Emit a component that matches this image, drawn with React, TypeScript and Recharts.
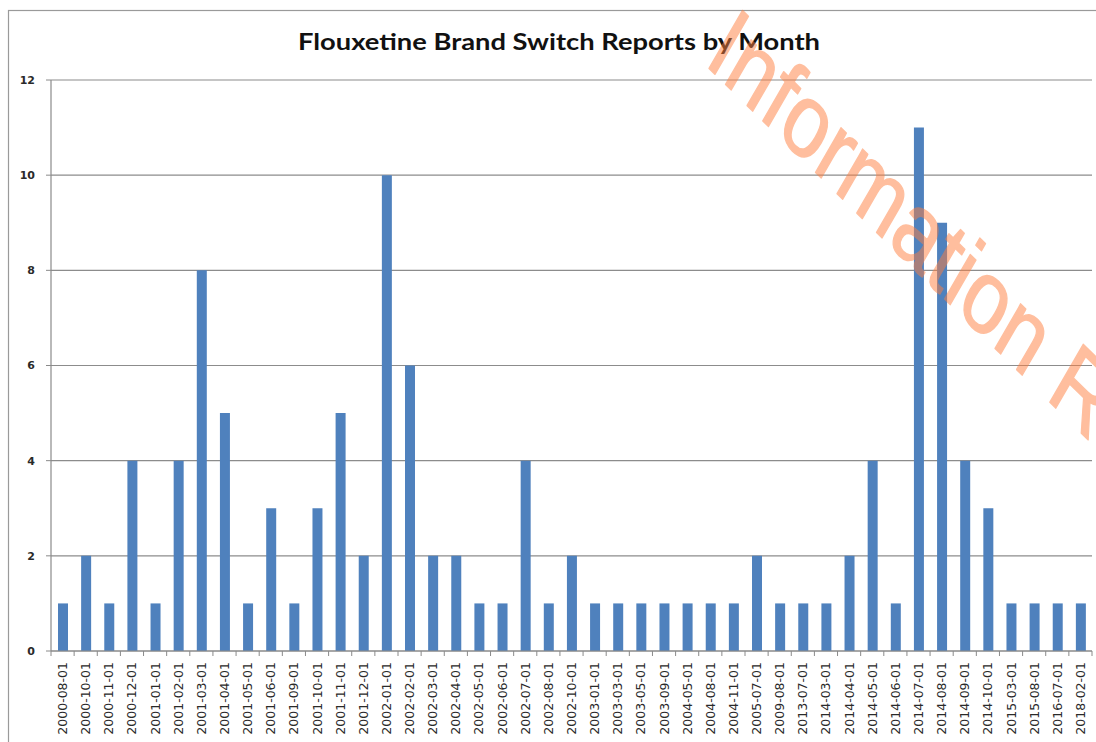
import React from 'react';
import { BarChart, Bar, XAxis, YAxis, CartesianGrid } from 'recharts';

const months = [
  '2000-08-01', '2000-10-01', '2000-11-01', '2000-12-01', '2001-01-01', '2001-02-01', '2001-03-01',
  '2001-04-01', '2001-05-01', '2001-06-01', '2001-09-01', '2001-10-01', '2001-11-01', '2001-12-01',
  '2002-01-01', '2002-02-01', '2002-03-01', '2002-04-01', '2002-05-01', '2002-06-01', '2002-07-01',
  '2002-08-01', '2002-10-01', '2003-01-01', '2003-03-01', '2003-05-01', '2003-09-01', '2004-05-01',
  '2004-08-01', '2004-11-01', '2005-07-01', '2009-08-01', '2013-07-01', '2014-03-01', '2014-04-01',
  '2014-05-01', '2014-06-01', '2014-07-01', '2014-08-01', '2014-09-01', '2014-10-01', '2015-03-01',
  '2015-08-01', '2016-07-01', '2018-02-01',
];

const reports = [
  1, 2, 1, 4, 1, 4, 8,
  5, 1, 3, 1, 3, 5, 2,
  10, 6, 2, 2, 1, 1, 4,
  1, 2, 1, 1, 1, 1, 1,
  1, 1, 2, 1, 1, 1, 2,
  4, 1, 11, 9, 4, 3, 1,
  1, 1, 1,
];

const yTicks = [0, 2, 4, 6, 8, 10, 12];

const title = 'Flouxetine Brand Switch Reports by Month';
const watermark = 'Information R';

const data = months.map((m, i) => ({ month: m, count: reports[i] }));

const W = 1096;
const H = 742;
const MARGIN = { top: 80, right: 4, bottom: 0, left: 0 };
const Y_AXIS_W = 51;
const X_AXIS_H = 91;
const PLOT_W = W - MARGIN.left - MARGIN.right - Y_AXIS_W;
const BAND = PLOT_W / data.length;

const XTick = (props: any) => {
  const { x, y, payload, index } = props;
  const axisY = y - 11;
  return (
    <g>
      <line x1={x - BAND / 2} x2={x - BAND / 2} y1={axisY} y2={axisY + 5} stroke="#8a8a8a" strokeWidth={1} />
      {index === data.length - 1 && (
        <line x1={x + BAND / 2} x2={x + BAND / 2} y1={axisY} y2={axisY + 5} stroke="#8a8a8a" strokeWidth={1} />
      )}
      <g transform={`translate(${x},${y})`}>
        <text
          transform="rotate(-90)"
          textAnchor="end"
          dy="0.36em"
          fontFamily="DejaVu Sans"
          fontSize={12.5}
          fill="#2a2a2a"
        >
          {payload.value}
        </text>
      </g>
    </g>
  );
};

export default function App() {
  return (
    <div style={{ position: 'absolute', left: 0, top: 0, width: W, height: H, background: '#fff', overflow: 'hidden' }}>
      <BarChart width={W} height={H} data={data} margin={MARGIN}>
        <CartesianGrid vertical={false} stroke="#8c8c8c" strokeWidth={1.2} />
        <XAxis
          dataKey="month"
          interval={0}
          height={X_AXIS_H}
          tickLine={false}
          tickSize={5}
          tickMargin={6}
          axisLine={{ stroke: '#8a8a8a', strokeWidth: 1.2 }}
          tick={<XTick />}
        />
        <YAxis
          domain={[0, 12]}
          ticks={yTicks}
          width={Y_AXIS_W}
          tickSize={5}
          tickMargin={11}
          axisLine={{ stroke: '#8a8a8a', strokeWidth: 1.2 }}
          tickLine={{ stroke: '#8a8a8a' }}
          tick={{ fontFamily: 'DejaVu Sans', fontWeight: 700, fontSize: 11, fill: '#2a2a2a' }}
        />
        <Bar dataKey="count" fill="#4F81BD" barSize={10} isAnimationActive={false} />
      </BarChart>
      <svg width={W} height={H} style={{ position: 'absolute', left: 0, top: 0, pointerEvents: 'none' }}>
        <rect x={8.5} y={10.5} width={1200} height={800} fill="none" stroke="#9a9a9a" strokeWidth={1.2} />
        <text
          x={559}
          y={50}
          textAnchor="middle"
          fontFamily="Lato"
          fontWeight={700}
          fontSize={23}
          textLength={522}
          lengthAdjust="spacingAndGlyphs"
          fill="#111"
        >
          {title}
        </text>
        <g opacity={0.5} transform="scale(1,1.3) translate(703,48) rotate(37)">
          <text
            x={0}
            y={0}
            fontFamily="Liberation Sans"
            fontSize={81}
            fill="#FF7F3F"
            stroke="#FF7F3F"
            strokeWidth={1.2}
            strokeLinejoin="round"
          >
            {watermark}
          </text>
        </g>
      </svg>
    </div>
  );
}
